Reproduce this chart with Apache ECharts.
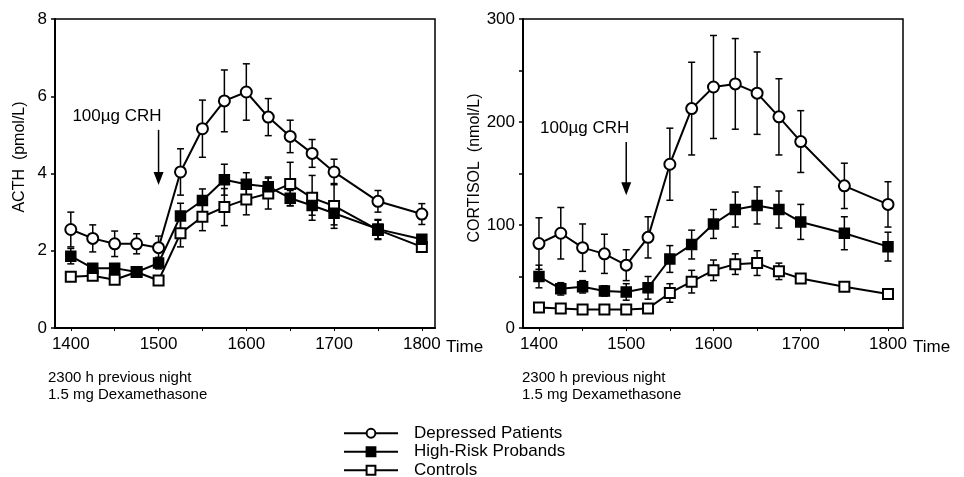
<!DOCTYPE html>
<html><head><meta charset="utf-8">
<script src="https://cdn.jsdelivr.net/npm/echarts@6/dist/echarts.min.js"></script>
<style>html,body{margin:0;padding:0;background:#fff}#c{width:964px;height:477px}</style>
</head><body><div id="c"></div>
<script>
var times = [1400,1425,1450,1475,1500,1525,1550,1575,1600,1625,1650,1675,1700,1750,1800];

var acthDep    = [2.55,2.32,2.18,2.18,2.08,4.04,5.16,5.88,6.11,5.46,4.96,4.52,4.04,3.28,2.95];
var acthDepErr = [0.45,0.35,0.33,0.26,0.30,0.60,0.74,0.80,0.73,0.48,0.42,0.36,0.33,0.28,0.27];
var acthHR     = [1.86,1.55,1.55,1.45,1.68,2.90,3.30,3.84,3.72,3.66,3.36,3.17,2.97,2.56,2.30];
var acthHRErr  = [0.20,0.10,0.10,0.10,0.15,0.33,0.30,0.40,0.30,0.25,0.20,0.25,0.30,0.25,0.10];
var acthCtl    = [1.33,1.35,1.25,1.45,1.23,2.45,2.88,3.13,3.33,3.48,3.73,3.37,3.16,2.54,2.10];
var acthCtlErr = [0.12,0.10,0.10,0.10,0.10,0.35,0.36,0.48,0.40,0.40,0.56,0.58,0.58,0.25,0.10];

var cortDep    = [82,92,78,72,61,88,159,213,234,237,228,205,181,138,120];
var cortDepErr = [25,25,23,19,15,20,35,45,50,44,40,37,30,22,22];
var cortHR     = [50,38,40,36,35,39,67,81,101,115,119,115,103,92,79];
var cortHRErr  = [11,6,6,5,8,11,13,14,14,17,18,18,17,16,14];
var cortCtl    = [20,19,18,18,18,19,34,45,56,62,63,55,48,40,33];
var cortCtlErr = [3,2,2,2,2,3,9,11,10,10,12,8,4,3,3];

var xLabels = [1400,1500,1600,1700,1800];
var xTicks = [1400,1450,1500,1550,1600,1650,1700,1750,1800];
var acthTicks = [0,2,4,6,8];
var cortLabels = [0,100,200,300];
var cortTicks = [0,50,100,150,200,250,300];

var groupNames = ['Depressed Patients','High-Risk Probands','Controls'];
var crhTime = 1500;
var acthArrow = [5.13, 3.70];
var cortArrow = [180.6, 129];

var FONT = '"Liberation Sans", Arial, Helvetica, sans-serif';

function pairs(xs, ys){ return xs.map(function(x,i){ return [x, ys[i]]; }); }
function errData(xs, ys, es){ return xs.map(function(x,i){ return [x, ys[i]-es[i], ys[i]+es[i]]; }); }

function errRender(params, api){
  var x = api.value(0);
  var lo = api.coord([x, api.value(1)]);
  var hi = api.coord([x, api.value(2)]);
  var w = 3.5;
  var st = {stroke:'#000', lineWidth:1.5};
  return {type:'group', children:[
    {type:'line', shape:{x1:lo[0],y1:lo[1],x2:hi[0],y2:hi[1]}, style:st},
    {type:'line', shape:{x1:lo[0]-w,y1:lo[1],x2:lo[0]+w,y2:lo[1]}, style:st},
    {type:'line', shape:{x1:hi[0]-w,y1:hi[1],x2:hi[0]+w,y2:hi[1]}, style:st}
  ]};
}

function arrowRender(params, api){
  var top = api.coord([api.value(0), api.value(1)]);
  var bot = api.coord([api.value(0), api.value(2)]);
  var hh = 13, hw = 5;
  return {type:'group', children:[
    {type:'line', shape:{x1:top[0],y1:top[1],x2:bot[0],y2:bot[1]-hh+2}, style:{stroke:'#000', lineWidth:1.5}},
    {type:'polygon', shape:{points:[[bot[0]-hw,bot[1]-hh],[bot[0]+hw,bot[1]-hh],[bot[0],bot[1]]]}, style:{fill:'#000'}},
    {type:'text', x: top[0]+3, y: top[1]-14, style:{text:'100\u00b5g CRH', fill:'#000', font:'17px '+FONT, align:'right', verticalAlign:'middle'}}
  ]};
}

var symbols = ['emptyCircle','rect','emptyRect'];

function lineSeries(name, idx, data, gi){
  return {
    type:'line', name:name, xAxisIndex:gi, yAxisIndex:gi, data:data,
    symbol: symbols[idx], symbolSize: idx===0 ? 11 : 10,
    lineStyle:{color:'#000', width:2},
    itemStyle:{color:'#000', borderColor:'#000', borderWidth:1.5},
    z: 3 + (2-idx), animation:false, emphasis:{disabled:true}
  };
}
function errSeries(data, gi){
  return {type:'custom', xAxisIndex:gi, yAxisIndex:gi, data:data, renderItem:errRender, z:1, animation:false, silent:true};
}

function xAxis(gi, min, max){
  return {
    type:'value', gridIndex:gi, min:min, max:max,
    axisLine:{show:true, lineStyle:{color:'#000', width:2}},
    axisTick:{show:true, length:3, customValues:xTicks, lineStyle:{color:'#000', width:1}},
    axisLabel:{customValues:xLabels, color:'#000', fontSize:17, fontFamily:FONT, margin:8,
               formatter:function(v){ return String(v); }},
    splitLine:{show:false}
  };
}
function yAxis(gi, max, ticks, labels){
  return {type:'value', gridIndex:gi, min:0, max:max,
     axisLine:{show:true, lineStyle:{color:'#000', width:2}},
     axisTick:{show:true, length:4, customValues:ticks, lineStyle:{color:'#000', width:1.5}},
     axisLabel:{customValues:labels, color:'#000', fontSize:17, fontFamily:FONT, margin:8,
                formatter:function(v){ return String(v); }},
     splitLine:{show:false}};
}

var option = {
  backgroundColor:'#fff',
  animation:false,
  grid:[
    {left:55, top:19, width:380, height:309, show:true, borderColor:'#000', borderWidth:1.5, backgroundColor:'transparent'},
    {left:523, top:19, width:380, height:309, show:true, borderColor:'#000', borderWidth:1.5, backgroundColor:'transparent'}
  ],
  xAxis:[ xAxis(0, 1382, 1815), xAxis(1, 1381.7, 1817.2) ],
  yAxis:[ yAxis(0, 8, acthTicks, acthTicks), yAxis(1, 300, cortTicks, cortLabels) ],
  legend:{
    data:groupNames, orient:'vertical', left:343, top:424, height:80, padding:0,
    itemWidth:54, itemHeight:11, itemGap:0,
    textStyle:{color:'#000', fontSize:17, fontFamily:FONT, lineHeight:18.5, padding:[0,0,0,11]},
    selectedMode:false
  },
  graphic:[
    {type:'text', x:20, y:157, rotation:Math.PI/2, style:{text:'ACTH  (pmol/L)', font:'16px '+FONT, fill:'#000', align:'center', verticalAlign:'middle'}},
    {type:'text', x:475, y:168, rotation:Math.PI/2, style:{text:'CORTISOL  (nmol/L)', font:'16px '+FONT, fill:'#000', align:'center', verticalAlign:'middle'}},
    {type:'text', x:446, y:347, style:{text:'Time', font:'17px '+FONT, fill:'#000', align:'left', verticalAlign:'middle'}},
    {type:'text', x:913, y:347, style:{text:'Time', font:'17px '+FONT, fill:'#000', align:'left', verticalAlign:'middle'}},
    {type:'text', x:48, y:378, style:{text:'2300 h previous night', font:'15px '+FONT, fill:'#000', align:'left', verticalAlign:'middle'}},
    {type:'text', x:48, y:395, style:{text:'1.5 mg Dexamethasone', font:'15px '+FONT, fill:'#000', align:'left', verticalAlign:'middle'}},
    {type:'text', x:522, y:378, style:{text:'2300 h previous night', font:'15px '+FONT, fill:'#000', align:'left', verticalAlign:'middle'}},
    {type:'text', x:522, y:395, style:{text:'1.5 mg Dexamethasone', font:'15px '+FONT, fill:'#000', align:'left', verticalAlign:'middle'}}
  ],
  series:[
    errSeries(errData(times, acthDep, acthDepErr), 0),
    errSeries(errData(times, acthHR, acthHRErr), 0),
    errSeries(errData(times, acthCtl, acthCtlErr), 0),
    lineSeries(groupNames[0], 0, pairs(times, acthDep), 0),
    lineSeries(groupNames[1], 1, pairs(times, acthHR), 0),
    lineSeries(groupNames[2], 2, pairs(times, acthCtl), 0),
    errSeries(errData(times, cortDep, cortDepErr), 1),
    errSeries(errData(times, cortHR, cortHRErr), 1),
    errSeries(errData(times, cortCtl, cortCtlErr), 1),
    lineSeries(groupNames[0], 0, pairs(times, cortDep), 1),
    lineSeries(groupNames[1], 1, pairs(times, cortHR), 1),
    lineSeries(groupNames[2], 2, pairs(times, cortCtl), 1),
    {type:'custom', xAxisIndex:0, yAxisIndex:0, data:[[crhTime, acthArrow[0], acthArrow[1]]], renderItem:arrowRender, z:5, silent:true},
    {type:'custom', xAxisIndex:1, yAxisIndex:1, data:[[crhTime, cortArrow[0], cortArrow[1]]], renderItem:arrowRender, z:5, silent:true}
  ]
};
var chart = echarts.init(document.getElementById('c'), null, {renderer:'canvas'});
chart.setOption(option);
</script>
</body></html>
